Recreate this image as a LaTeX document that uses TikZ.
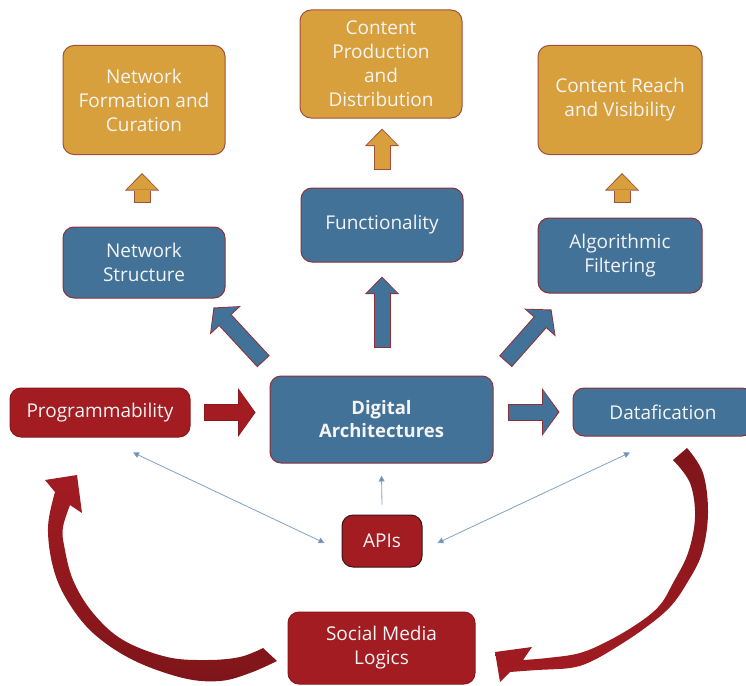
\documentclass[tikz,border=0pt]{standalone}
\usepackage{fontspec}
\setmainfont{Open Sans}
\usetikzlibrary{arrows.meta}
\definecolor{boxblue}{HTML}{437298}
\definecolor{boxorange}{HTML}{D8A03C}
\definecolor{boxred}{HTML}{A21C22}
\definecolor{rimred}{HTML}{8E3036}
\definecolor{rimbrown}{HTML}{A3503A}
\definecolor{rimdark}{HTML}{3B1516}
\definecolor{curvdark}{HTML}{7E151A}
\definecolor{linkblue}{HTML}{7FA2C2}
\definecolor{textwhite}{HTML}{F4F4F4}
\begin{document}
\begin{tikzpicture}[x=1pt,y=-1pt,
  box/.style={rectangle,rounded corners=11pt,line width=1pt,text=textwhite,
    align=center,inner sep=0pt,font=\fontsize{19}{24}\selectfont},
  bluebox/.style={box,fill=boxblue,draw=rimred},
  orangebox/.style={box,fill=boxorange,draw=rimbrown},
  redbox/.style={box,fill=boxred,draw=boxred!85!black},
  blockarrow/.style n args={4}{line width=15pt,draw=#1,shorten <=1pt,shorten >=1.5pt,
    -{Triangle[length=15pt,width=#3,line width=0pt]},
    preaction={draw=#2,line width=17pt,shorten <=0pt,shorten >=0pt,
      -{Triangle[length=17.5pt,width=#4,line width=0pt]}}},
  linktip/.tip={Triangle[length=6pt,width=6pt,fill=boxblue!80]},
  thinlink/.style={draw=linkblue,line width=0.8pt}]
\useasboundingbox (0,0) rectangle (746,685);

% top row
\node[orangebox,minimum width=162pt,minimum height=109pt] (NFC) at (144,100) {Network\\Formation and\\Curation};
\node[orangebox,minimum width=162pt,minimum height=108pt] (CPD) at (381,64) {Content\\Production\\and\\Distribution};
\node[orangebox,minimum width=164pt,minimum height=109pt] (CRV) at (620,100) {Content Reach\\and Visibility};

% middle row
\node[bluebox,minimum width=162pt,minimum height=71pt] (NS) at (144,262.5) {Network\\Structure};
\node[bluebox,minimum width=162pt,minimum height=74pt] (FN) at (382,225) {Functionality};
\node[bluebox,minimum width=164pt,minimum height=75pt] (AF) at (620,255.5) {Algorithmic\\Filtering};

% centre row
\node[redbox,minimum width=180pt,minimum height=49pt] (PR) at (100,412.5) {Programmability};
\node[bluebox,minimum width=223pt,minimum height=87pt,font=\fontsize{18.5}{23}\selectfont\bfseries] (DA) at (381.5,419.5) {Digital\\Architectures};
\node[bluebox,minimum width=180pt,minimum height=48pt] (DF) at (663,412) {Datafication};

% bottom
\node[redbox,draw=rimdark,minimum width=80pt,minimum height=52pt] (API) at (382,541) {APIs};
\node[redbox,minimum width=187pt,minimum height=72pt] (SML) at (381.5,648) {Social Media\\Logics};

% orange arrows
\draw[blockarrow={boxorange}{rimbrown}{30pt}{34pt}] ([shift={(-2,-24)}]NS.north) -- ([shift={(-2,18)}]NFC.south);
\draw[blockarrow={boxorange}{rimbrown}{30pt}{34pt}] ([shift={(0,-18)}]FN.north) -- ([shift={(1,10)}]CPD.south);
\draw[blockarrow={boxorange}{rimbrown}{30pt}{34pt}] ([shift={(2,-15)}]AF.north) -- ([shift={(2,18)}]CRV.south);

% blue arrows
\draw[blockarrow={boxblue}{rimred}{38pt}{42pt}] ([shift={(-6,-14)}]DA.north west) -- ([shift={(-12,9)}]NS.south east);
\draw[blockarrow={boxblue}{rimred}{30pt}{34pt}] ([shift={(0.5,-28)}]DA.north) -- ([shift={(0,14)}]FN.south);
\draw[blockarrow={boxblue}{rimred}{38pt}{42pt}] ([shift={(12,-14)}]DA.north east) -- ([shift={(14,16)}]AF.south west);
\draw[blockarrow={boxred}{boxred!85!black}{45pt}{49pt}] ([xshift=13pt]PR.east) -- ([xshift=-14pt]DA.west |- PR.east);
\draw[blockarrow={boxblue}{rimred}{44pt}{48pt}] ([xshift=14pt]DA.east |- DF.west) -- ([xshift=-13pt]DF.west);

% thin links
\draw[thinlink,-linktip] ([shift={(0,-10)}]API.north) -- ([shift={(0,12)}]DA.south);
\draw[thinlink,linktip-linktip] ([shift={(-17,2)}]API.west) -- ([shift={(33,15)}]PR.south);
\draw[thinlink,linktip-linktip] ([shift={(15,2)}]API.east) -- ([shift={(-33,16)}]DF.south);

% curved arrows
\shade[top color=curvdark,bottom color=boxred]
  plot[smooth,tension=0.6] coordinates {(687,448) (703,473) (708,513) (702,553) (687,583) (670,607) (645,628) (615,648) (590,662) (570,668) (537,670) (510,672)}
  -- (500,682) -- (495,652) -- (532,647) --
  plot[smooth,tension=0.6] coordinates {(523,660) (547,658) (580,653) (610,640) (640,622) (660,605) (673,583) (688,553) (695,517) (690,483) (673,460)}
  -- cycle;
\shade[top color=boxred,bottom color=curvdark]
  plot[smooth,tension=0.6] coordinates {(277,661) (250,673) (220,681) (183,678) (133,660) (93,633) (67,600) (53,567) (48,527) (55,492)}
  -- (45,480) -- (77,475) -- (82,513) --
  plot[smooth,tension=0.6] coordinates {(70,505) (63,527) (64,545) (73,580) (93,613) (123,640) (167,657) (207,660) (240,657) (263,648)}
  -- cycle;
\end{tikzpicture}
\end{document}
